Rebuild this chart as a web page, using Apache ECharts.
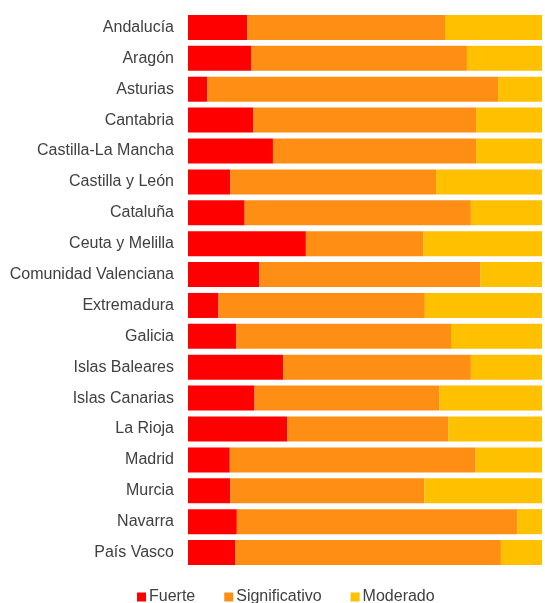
<!DOCTYPE html>
<html>
<head>
<meta charset="utf-8">
<script src="https://cdn.jsdelivr.net/npm/echarts@6/dist/echarts.min.js"></script>
<style>html,body{margin:0;padding:0;background:#fff}#c{width:545px;height:603px}</style>
</head>
<body>
<div id="c"></div>
<script>
const categories = ["Andalucía","Aragón","Asturias","Cantabria","Castilla-La Mancha","Castilla y León","Cataluña","Ceuta y Melilla","Comunidad Valenciana","Extremadura","Galicia","Islas Baleares","Islas Canarias","La Rioja","Madrid","Murcia","Navarra","País Vasco"];
const fuerte =        [16.7, 17.8, 5.4, 18.4, 24.0, 11.9, 16.0, 33.3, 20.1, 8.6, 13.6, 26.9, 18.8, 28.0, 11.8, 11.9, 13.8, 13.3];
const significativo = [55.9, 61.0, 82.2, 63.0, 57.4, 58.2, 63.9, 33.2, 62.5, 58.3, 60.7, 53.0, 52.2, 45.5, 69.4, 54.9, 79.2, 75.1];
const moderado =      [27.4, 21.2, 12.4, 18.6, 18.6, 29.9, 20.1, 33.5, 17.4, 33.1, 25.7, 20.1, 29.0, 26.5, 18.8, 33.2, 7.0, 11.6];
const seriesNames = ["Fuerte","Significativo","Moderado"];
const colors = ["#FF0000","#FF8F14","#FFC000"];

const chart = echarts.init(document.getElementById('c'), null, {renderer:'canvas'});
const mk = (name, data, color) => ({
  name, type:'bar', stack:'total', data,
  barCategoryGap:'19%',
  itemStyle:{color},
  emphasis:{disabled:true}
});
chart.setOption({
  animation:false,
  textStyle:{fontFamily:'Liberation Sans, Arial, sans-serif'},
  grid:{left:188,right:3,top:12,bottom:35,containLabel:false},
  legend:{
    data:seriesNames, top:584, left:132,
    icon:'rect', itemWidth:9, itemHeight:9, itemGap:29,
    textStyle:{fontSize:16,color:'#404040',padding:[0,0,0,-2]}
  },
  xAxis:{type:'value',min:0,max:100,show:false},
  yAxis:{
    type:'category', data:categories, inverse:true,
    axisLine:{show:false}, axisTick:{show:false},
    axisLabel:{fontSize:16,color:'#404040',margin:14}
  },
  series:[
    mk(seriesNames[0], fuerte, colors[0]),
    mk(seriesNames[1], significativo, colors[1]),
    mk(seriesNames[2], moderado, colors[2])
  ]
});
</script>
</body>
</html>
